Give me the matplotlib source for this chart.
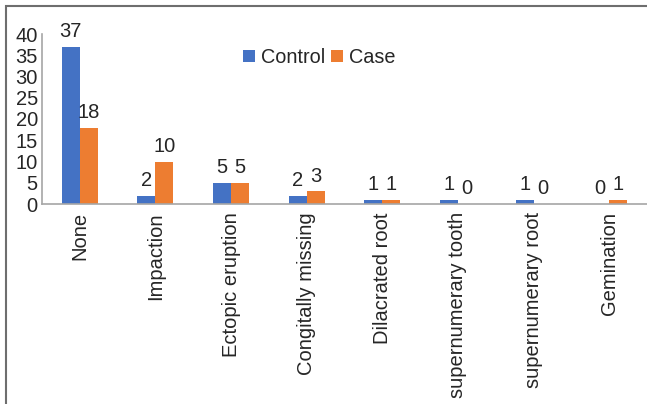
import numpy as np
import matplotlib.pyplot as plt
from matplotlib.patches import Rectangle

plt.rcParams['font.family'] = ['Liberation Sans', 'DejaVu Sans']

categories = ["None", "Impaction", "Ectopic eruption", "Congitally missing",
              "Dilacrated root", "supernumerary tooth", "supernumerary root",
              "Gemination"]
control = [37, 2, 5, 2, 1, 1, 1, 0]
case = [18, 10, 5, 3, 1, 0, 0, 1]

blue = "#4472C4"
orange = "#ED7D31"

fig = plt.figure(figsize=(6.47, 4.04), dpi=100)
ax = fig.add_axes([42 / 647, 1 - 204 / 404, 1 - 42 / 647, 170 / 404])

x = np.arange(len(categories))
w = 0.238
b1 = ax.bar(x - w / 2, control, w, color=blue, label="Control")
b2 = ax.bar(x + w / 2, case, w, color=orange, label="Case")

for bars, vals in ((b1, control), (b2, case)):
    for r, v in zip(bars, vals):
        ax.annotate(str(v), (r.get_x() + r.get_width() / 2, v),
                    xytext=(0, 4), textcoords="offset points",
                    ha="center", va="bottom", fontsize=14.5, color="#262626")

ax.set_xlim(-0.5, len(categories) - 0.5)
ax.set_ylim(0, 40)
ax.set_yticks(range(0, 41, 5))
ax.set_xticks(x)
ax.set_xticklabels(categories, rotation=90, fontsize=14.5, color="#262626")
ax.tick_params(axis="y", labelsize=14.5, labelcolor="#262626", length=0, pad=3)
ax.tick_params(axis="x", length=0, pad=6)
for s in ("top", "right"):
    ax.spines[s].set_visible(False)
for s in ("left", "bottom"):
    ax.spines[s].set_color("#A6A6A6")
    ax.spines[s].set_linewidth(1.2)

ax.legend(loc="upper left", bbox_to_anchor=(0.316, 0.975), ncol=2, frameon=False,
          fontsize=14.3, handlelength=0.6, handleheight=0.6, handletextpad=0.3,
          columnspacing=0.3, labelcolor="#262626", borderpad=0)

# outer frame around the chart area
fig.patches.append(Rectangle((6 / 647, -0.05), 1.1, 1 - 6 / 404 + 0.05,
                             transform=fig.transFigure, fill=False,
                             edgecolor="#6E6E6E", linewidth=1.5))

fig.savefig("out.png", dpi=100)
